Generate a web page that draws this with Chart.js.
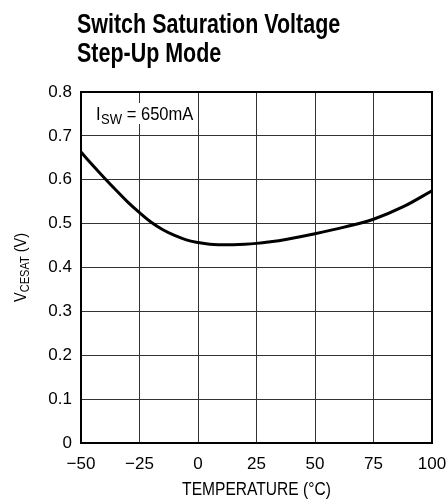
<!DOCTYPE html>
<html>
<head>
<meta charset="utf-8">
<script src="https://cdn.jsdelivr.net/npm/chart.js@4"></script>
<style>
html,body{margin:0;padding:0;background:#fff;}
#wrap{width:447px;height:500px;position:relative;}
</style>
</head>
<body>
<div id="wrap"><canvas id="c" width="447" height="500"></canvas></div>
<script>
const FONT = "'Liberation Sans', Arial, sans-serif";
const titleLines = ["Switch Saturation Voltage", "Step-Up Mode"];
const xTitle = "TEMPERATURE (°C)";
const yTitleMain = "V", yTitleSub = "CESAT", yTitleTail = " (V)";
const noteMain = "I", noteSub = "SW", noteTail = " = 650mA";
const xTicks = [-50, -25, 0, 25, 50, 75, 100];
const yTicks = [0, 0.1, 0.2, 0.3, 0.4, 0.5, 0.6, 0.7, 0.8];
const temps  = [-50, -45, -40, -35, -30, -25, -20, -15, -10, -5, 0, 5, 10, 15, 20, 25, 30, 37.5, 50, 62.5, 75, 87.5, 100];
const vcesat = [0.663, 0.633, 0.604, 0.576, 0.549, 0.525, 0.503, 0.486, 0.473, 0.463, 0.457, 0.453, 0.452, 0.452, 0.453, 0.455, 0.458, 0.464, 0.477, 0.492, 0.510, 0.538, 0.575];

const points = temps.map((t, i) => ({x: t, y: vcesat[i]}));

function condText(ctx, text, x, y, sx) {
  ctx.save();
  ctx.translate(x, y);
  ctx.scale(sx, 1);
  ctx.fillText(text, 0, 0);
  ctx.restore();
  return ctx.measureText(text).width * sx;
}

const decor = {
  id: 'decor',
  beforeDatasetsDraw(chart) {
    const ctx = chart.ctx;
    const ca = chart.chartArea;
    ctx.save();
    ctx.fillStyle = '#fff';
    ctx.fillRect(ca.left + 10, ca.top + 11, 106, 21);
    ctx.restore();
  },
  afterDraw(chart) {
    const ctx = chart.ctx;
    const ca = chart.chartArea;
    ctx.save();
    ctx.strokeStyle = '#000';
    ctx.lineWidth = 2;
    ctx.strokeRect(ca.left, ca.top, ca.right - ca.left, ca.bottom - ca.top);
    ctx.fillStyle = '#000';
    ctx.textAlign = 'left';
    ctx.textBaseline = 'alphabetic';
    // title
    ctx.font = "bold 27px " + FONT;
    condText(ctx, titleLines[0], 77, 33, 0.795);
    condText(ctx, titleLines[1], 77, 62, 0.795);
    // note
    let x = 96, yb = 120;
    const ns = 0.87;
    ctx.font = "19px " + FONT;
    x += condText(ctx, noteMain, x, yb, ns) + 0.5;
    ctx.font = "15px " + FONT;
    x += condText(ctx, noteSub, x, yb + 3.5, ns);
    ctx.font = "19px " + FONT;
    condText(ctx, noteTail, x, yb, ns);
    // x title
    ctx.font = "19px " + FONT;
    const xs = 0.82;
    const xw = ctx.measureText(xTitle).width * xs;
    condText(ctx, xTitle, (ca.left + ca.right) / 2 - xw / 2, 495, xs);
    // y title (rotated)
    ctx.translate(26, (ca.top + ca.bottom) / 2);
    ctx.rotate(-Math.PI / 2);
    const ys = 0.85;
    ctx.font = "17px " + FONT;
    const w1 = ctx.measureText(yTitleMain).width * ys;
    const w3 = ctx.measureText(yTitleTail).width * ys;
    ctx.font = "13px " + FONT;
    const w2 = ctx.measureText(yTitleSub).width * ys;
    let sx = -(w1 + w2 + w3) / 2;
    ctx.font = "17px " + FONT;
    sx += condText(ctx, yTitleMain, sx, 0, ys);
    ctx.font = "13px " + FONT;
    sx += condText(ctx, yTitleSub, sx, 2.5, ys);
    ctx.font = "17px " + FONT;
    condText(ctx, yTitleTail, sx, 0, ys);
    ctx.restore();
  }
};

new Chart(document.getElementById('c'), {
  type: 'line',
  data: {
    datasets: [{
      data: points,
      borderColor: '#000',
      borderWidth: 3,
      pointRadius: 0,
      tension: 0.4,
      fill: false
    }]
  },
  options: {
    responsive: false,
    animation: false,
    devicePixelRatio: 1,
    layout: {padding: {left: 0, top: 92, right: 15, bottom: 0}},
    plugins: {legend: {display: false}, title: {display: false}, tooltip: {enabled: false}},
    scales: {
      x: {
        type: 'linear',
        min: -50, max: 100,
        afterBuildTicks(scale) { scale.ticks = xTicks.map(v => ({value: v})); },
        afterFit(scale) { scale.height = 57; scale.paddingLeft = 0; scale.paddingRight = 0; },
        grid: {color: '#333', lineWidth: 1, drawTicks: false},
        border: {display: false},
        ticks: {
          padding: 11,
          color: '#000',
          font: {family: FONT, size: 17},
          callback: v => (v < 0 ? '\u2212' + Math.abs(v) : String(v))
        }
      },
      y: {
        min: 0, max: 0.8,
        afterBuildTicks(scale) { scale.ticks = yTicks.map(v => ({value: v})); },
        afterFit(scale) { scale.width = 81; scale.paddingTop = 0; scale.paddingBottom = 0; },
        grid: {color: '#333', lineWidth: 1, drawTicks: false},
        border: {display: false},
        ticks: {
          padding: 9,
          color: '#000',
          font: {family: FONT, size: 17},
          callback: v => (v === 0 ? '0' : Number(v).toFixed(1))
        }
      }
    }
  },
  plugins: [decor]
});
</script>
</body>
</html>
